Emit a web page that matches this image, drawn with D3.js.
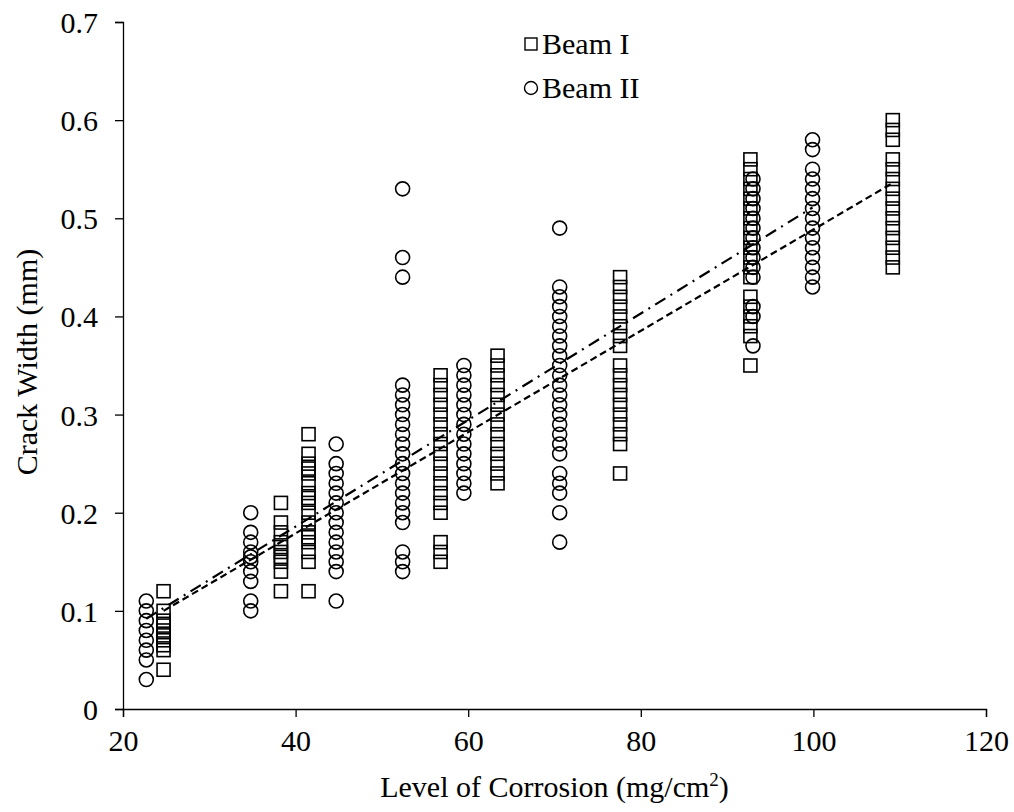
<!DOCTYPE html>
<html>
<head>
<meta charset="utf-8">
<script src="https://cdn.jsdelivr.net/npm/d3@7"></script>
<style>
  body { margin: 0; background: #fff; }
  text { font-family: "Liberation Serif", "Times New Roman", serif; fill: #000; }
</style>
</head>
<body>
<script>
// Beam I (squares): [corrosion level, crack widths...]
const beamI_x = [24.7, 38.3, 41.5, 56.8, 63.4, 77.6, 92.7, 109.2];
const beamI_y = [
  [0.12, 0.10, 0.09, 0.085, 0.08, 0.075, 0.07, 0.065, 0.06, 0.04],
  [0.21, 0.19, 0.18, 0.17, 0.165, 0.16, 0.155, 0.15, 0.14, 0.12],
  [0.28, 0.26, 0.25, 0.245, 0.24, 0.23, 0.22, 0.215, 0.21, 0.20, 0.19, 0.18, 0.175, 0.17, 0.16, 0.15, 0.12],
  [0.34, 0.33, 0.32, 0.31, 0.30, 0.29, 0.28, 0.27, 0.26, 0.25, 0.24, 0.23, 0.22, 0.21, 0.20, 0.17, 0.16, 0.15],
  [0.36, 0.35, 0.34, 0.33, 0.32, 0.31, 0.30, 0.29, 0.28, 0.27, 0.26, 0.25, 0.24, 0.23],
  [0.44, 0.43, 0.42, 0.41, 0.40, 0.39, 0.38, 0.37, 0.35, 0.34, 0.33, 0.32, 0.31, 0.30, 0.29, 0.28, 0.27, 0.24],
  [0.56, 0.55, 0.54, 0.53, 0.52, 0.51, 0.50, 0.49, 0.48, 0.47, 0.46, 0.45, 0.44, 0.42, 0.41, 0.40, 0.39, 0.38, 0.35],
  [0.60, 0.59, 0.58, 0.56, 0.55, 0.54, 0.53, 0.52, 0.51, 0.50, 0.49, 0.48, 0.47, 0.46, 0.45]
];

// Beam II (circles)
const beamII_x = [22.7, 34.8, 44.7, 52.4, 59.5, 70.6, 93.0, 99.9];
const beamII_y = [
  [0.11, 0.10, 0.09, 0.08, 0.07, 0.06, 0.05, 0.03],
  [0.20, 0.18, 0.17, 0.16, 0.155, 0.15, 0.14, 0.13, 0.11, 0.10],
  [0.27, 0.25, 0.24, 0.23, 0.22, 0.21, 0.20, 0.19, 0.18, 0.17, 0.16, 0.15, 0.14, 0.11],
  [0.53, 0.46, 0.44, 0.33, 0.32, 0.31, 0.30, 0.29, 0.28, 0.27, 0.26, 0.25, 0.24, 0.23, 0.22, 0.21, 0.20, 0.19, 0.16, 0.15, 0.14],
  [0.35, 0.34, 0.33, 0.32, 0.31, 0.30, 0.29, 0.28, 0.27, 0.26, 0.25, 0.24, 0.23, 0.22],
  [0.49, 0.43, 0.42, 0.41, 0.40, 0.39, 0.38, 0.37, 0.36, 0.35, 0.34, 0.33, 0.32, 0.31, 0.30, 0.29, 0.28, 0.27, 0.26, 0.24, 0.23, 0.22, 0.20, 0.17],
  [0.54, 0.53, 0.52, 0.51, 0.50, 0.49, 0.48, 0.47, 0.46, 0.45, 0.44, 0.41, 0.40, 0.37],
  [0.58, 0.57, 0.55, 0.54, 0.53, 0.52, 0.51, 0.50, 0.49, 0.48, 0.47, 0.46, 0.45, 0.44, 0.43]
];

// trend lines (start / end)
const trendI = [[24.7, 0.100], [109.2, 0.536]];
const trendII = [[22.7, 0.092], [99.9, 0.511]];

const xTicks = [20, 40, 60, 80, 100, 120];
const yTicks = [0, 0.1, 0.2, 0.3, 0.4, 0.5, 0.6, 0.7];

const W = 1014, H = 812;
const margin = { top: 22, right: 28, bottom: 103, left: 123 };
const width = W - margin.left - margin.right;
const height = H - margin.top - margin.bottom;
const fontSize = '30px';

const svg = d3.select('body').append('svg')
    .attr('width', W)
    .attr('height', H);

const g = svg.append('g')
    .attr('transform', `translate(${margin.left},${margin.top})`);

const x = d3.scaleLinear().domain([20, 120]).range([0, width]);
const y = d3.scaleLinear().domain([0, 0.7]).range([height, 0]);

// flatten clusters into points
const ptsI = beamI_x.flatMap((xv, i) => beamI_y[i].map(v => ({ x: xv, y: v })));
const ptsII = beamII_x.flatMap((xv, i) => beamII_y[i].map(v => ({ x: xv, y: v })));

// Axes
const xAxis = g.append('g')
    .attr('transform', `translate(0,${height})`)
    .call(d3.axisBottom(x).tickValues(xTicks).tickSize(8).tickPadding(13).tickFormat(d3.format('d')));

const yAxis = g.append('g')
    .call(d3.axisLeft(y).tickValues(yTicks).tickSize(8).tickPadding(17)
        .tickFormat(d => d === 0 ? '0' : d3.format('.1f')(d)));

[xAxis, yAxis].forEach(a => {
    a.select('.domain').attr('stroke', '#000').attr('stroke-width', 1.3);
    a.selectAll('.tick line').attr('stroke', '#000').attr('stroke-width', 1.3);
    a.selectAll('.tick text')
        .style('font-family', '"Liberation Serif", serif')
        .style('font-size', fontSize)
        .attr('fill', '#000');
});
yAxis.selectAll('.tick text').attr('dy', '0.35em');

// Beam I squares
const sq = 13;
g.selectAll('rect.beamI')
    .data(ptsI)
    .enter()
    .append('rect')
    .attr('class', 'beamI')
    .attr('x', d => x(d.x) - sq / 2)
    .attr('y', d => y(d.y) - sq / 2)
    .attr('width', sq)
    .attr('height', sq)
    .attr('fill', 'none')
    .attr('stroke', '#000')
    .attr('stroke-width', 1.6);

// Beam II circles
g.selectAll('circle.beamII')
    .data(ptsII)
    .enter()
    .append('circle')
    .attr('class', 'beamII')
    .attr('cx', d => x(d.x))
    .attr('cy', d => y(d.y))
    .attr('r', 7)
    .attr('fill', 'none')
    .attr('stroke', '#000')
    .attr('stroke-width', 1.6);

// Trend lines
const line = d3.line().x(d => x(d[0])).y(d => y(d[1]));

g.append('path')
    .datum(trendI)
    .attr('d', line)
    .attr('fill', 'none')
    .attr('stroke', '#000')
    .attr('stroke-width', 2.2)
    .attr('stroke-dasharray', '7,4');

g.append('path')
    .datum(trendII)
    .attr('d', line)
    .attr('fill', 'none')
    .attr('stroke', '#000')
    .attr('stroke-width', 2.2)
    .attr('stroke-dasharray', '12,6,2,6');

// Legend
const legend = svg.append('g').attr('transform', 'translate(531,44)');
legend.append('rect')
    .attr('x', -6).attr('y', -6)
    .attr('width', 12).attr('height', 12)
    .attr('fill', 'none').attr('stroke', '#000').attr('stroke-width', 1.4);
legend.append('text')
    .attr('x', 11).attr('y', 0).attr('dy', '0.33em')
    .style('font-size', fontSize)
    .text('Beam I');
legend.append('circle')
    .attr('cx', 0).attr('cy', 44).attr('r', 6.5)
    .attr('fill', 'none').attr('stroke', '#000').attr('stroke-width', 1.4);
legend.append('text')
    .attr('x', 11).attr('y', 44).attr('dy', '0.33em')
    .style('font-size', fontSize)
    .text('Beam II');

// Axis titles
const xTitle = svg.append('text')
    .attr('x', margin.left + width / 2)
    .attr('y', 797)
    .attr('text-anchor', 'middle')
    .style('font-size', fontSize);
xTitle.append('tspan').text('Level of Corrosion (mg/cm');
xTitle.append('tspan').attr('dy', -11).style('font-size', '19px').text('2');
xTitle.append('tspan').attr('dy', 11).text(')');

svg.append('text')
    .attr('transform', `translate(37,${margin.top + 340}) rotate(-90)`)
    .attr('text-anchor', 'middle')
    .style('font-size', fontSize)
    .text('Crack Width (mm)');
</script>
</body>
</html>
